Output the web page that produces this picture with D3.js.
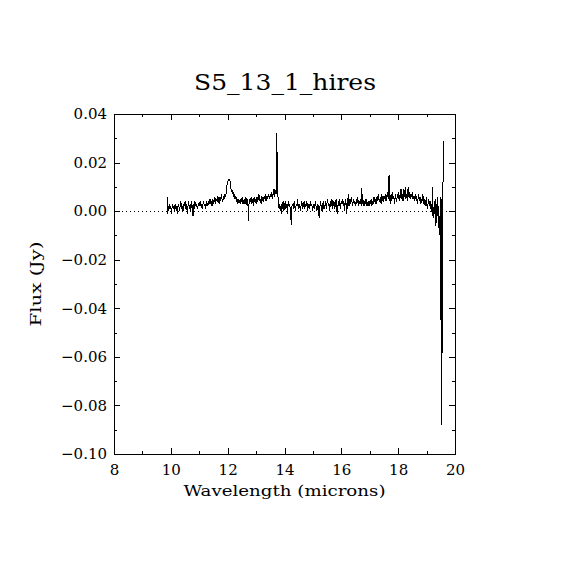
<!DOCTYPE html>
<html>
<head>
<meta charset="utf-8">
<script src="https://cdn.jsdelivr.net/npm/d3@7"></script>
<style>
  body { margin: 0; background: #fff; }
  svg { display: block; }
  .axis path.domain { display: none; }
  .axis line { stroke: #000; shape-rendering: crispEdges; }
  .axis text { font-family: "DejaVu Serif", serif; font-size: 15px; fill: #000; }
</style>
</head>
<body>
<div id="chart"></div>
<script>
// chart data
var chartTitle = "S5_13_1_hires";
var xLabel = "Wavelength (microns)";
var yLabel = "Flux (Jy)";

var xMajorTicks = [8, 10, 12, 14, 16, 18, 20];
var xMinorTicks = [9, 11, 13, 15, 17, 19];
var yMajorTicks = [-0.10, -0.08, -0.06, -0.04, -0.02, 0.00, 0.02, 0.04];
var yMinorTicks = [-0.09, -0.07, -0.05, -0.03, -0.01, 0.01, 0.03];

var wavelength = [
  9.87, 9.88, 9.90, 9.93, 9.95, 9.98, 10.00, 10.03, 10.05, 10.08,
  10.10, 10.13, 10.15, 10.18, 10.20, 10.23, 10.25, 10.28, 10.30, 10.33,
  10.35, 10.38, 10.40, 10.43, 10.45, 10.48, 10.50, 10.53, 10.55, 10.58,
  10.60, 10.63, 10.65, 10.68, 10.70, 10.73, 10.75, 10.78, 10.80, 10.83,
  10.85, 10.88, 10.90, 10.93, 10.95, 10.98, 11.00, 11.03, 11.05, 11.08,
  11.10, 11.13, 11.15, 11.18, 11.20, 11.23, 11.25, 11.28, 11.30, 11.33,
  11.35, 11.38, 11.40, 11.43, 11.45, 11.48, 11.50, 11.53, 11.55, 11.58,
  11.60, 11.63, 11.65, 11.68, 11.70, 11.73, 11.75, 11.78, 11.80, 11.83,
  11.85, 11.88, 11.90, 11.93, 11.96, 11.98, 12.00, 12.03, 12.06, 12.09,
  12.11, 12.13, 12.15, 12.17, 12.19, 12.21, 12.24, 12.26, 12.29, 12.31,
  12.34, 12.36, 12.39, 12.41, 12.44, 12.46, 12.49, 12.51, 12.54, 12.56,
  12.59, 12.61, 12.64, 12.66, 12.69, 12.71, 12.73, 12.75, 12.78, 12.80,
  12.83, 12.85, 12.88, 12.90, 12.93, 12.95, 12.98, 13.00, 13.03, 13.05,
  13.08, 13.10, 13.13, 13.15, 13.18, 13.20, 13.23, 13.25, 13.28, 13.30,
  13.33, 13.35, 13.38, 13.40, 13.43, 13.45, 13.48, 13.50, 13.53, 13.55,
  13.58, 13.60, 13.63, 13.65, 13.68, 13.71, 13.73, 13.75, 13.77, 13.79,
  13.81, 13.83, 13.85, 13.87, 13.89, 13.91, 13.93, 13.95, 13.98, 14.00,
  14.03, 14.05, 14.08, 14.10, 14.13, 14.15, 14.18, 14.21, 14.24, 14.26,
  14.29, 14.31, 14.34, 14.36, 14.39, 14.41, 14.44, 14.46, 14.49, 14.51,
  14.54, 14.56, 14.59, 14.61, 14.64, 14.66, 14.69, 14.71, 14.74, 14.76,
  14.79, 14.81, 14.84, 14.86, 14.89, 14.91, 14.94, 14.96, 14.99, 15.01,
  15.04, 15.06, 15.09, 15.11, 15.14, 15.16, 15.19, 15.22, 15.24, 15.27,
  15.29, 15.32, 15.34, 15.37, 15.39, 15.42, 15.44, 15.47, 15.49, 15.52,
  15.54, 15.57, 15.59, 15.62, 15.64, 15.67, 15.69, 15.72, 15.74, 15.77,
  15.79, 15.82, 15.84, 15.87, 15.89, 15.92, 15.94, 15.97, 15.99, 16.02,
  16.04, 16.07, 16.09, 16.12, 16.14, 16.17, 16.19, 16.22, 16.25, 16.27,
  16.30, 16.32, 16.35, 16.37, 16.40, 16.42, 16.45, 16.47, 16.50, 16.53,
  16.55, 16.58, 16.60, 16.63, 16.65, 16.68, 16.70, 16.72, 16.74, 16.77,
  16.80, 16.82, 16.85, 16.87, 16.90, 16.92, 16.95, 16.97, 17.00, 17.02,
  17.05, 17.07, 17.10, 17.12, 17.15, 17.17, 17.20, 17.22, 17.25, 17.27,
  17.30, 17.32, 17.35, 17.37, 17.40, 17.42, 17.45, 17.47, 17.50, 17.52,
  17.55, 17.57, 17.60, 17.62, 17.65, 17.68, 17.70, 17.72, 17.75, 17.77,
  17.80, 17.82, 17.85, 17.87, 17.90, 17.92, 17.95, 17.97, 18.00, 18.02,
  18.05, 18.07, 18.10, 18.12, 18.15, 18.17, 18.20, 18.22, 18.25, 18.27,
  18.30, 18.32, 18.35, 18.37, 18.40, 18.42, 18.45, 18.47, 18.50, 18.52,
  18.55, 18.57, 18.60, 18.62, 18.65, 18.67, 18.70, 18.72, 18.75, 18.77,
  18.80, 18.82, 18.85, 18.87, 18.90, 18.92, 18.95, 18.97, 19.00, 19.02,
  19.05, 19.07, 19.10, 19.12, 19.15, 19.17, 19.20, 19.21, 19.23, 19.25,
  19.27, 19.29, 19.31, 19.33, 19.35, 19.37, 19.39, 19.41, 19.43, 19.45,
  19.47, 19.49, 19.50, 19.51, 19.52, 19.53, 19.54, 19.55, 19.56, 19.57,
  19.58, 19.59, 19.60
];

var flux = [
  0.006, -0.001, 0.002, 0.000, 0.003, 0.001, 0.002, -0.001, 0.003, 0.001,
  0.002, 0.000, 0.003, 0.001, 0.002, -0.001, 0.002, 0.003, 0.000, 0.002,
  0.004, 0.001, 0.002, 0.000, 0.003, 0.002, 0.004, 0.001, 0.003, -0.001,
  0.002, 0.004, 0.001, 0.003, 0.000, 0.004, 0.002, -0.002, 0.003, 0.001,
  0.004, 0.002, 0.003, 0.001, 0.002, 0.003, 0.002, 0.004, 0.002, 0.003,
  0.001, 0.003, 0.004, 0.002, 0.003, 0.001, 0.004, 0.003, 0.002, 0.004,
  0.003, 0.005, 0.003, 0.004, 0.002, 0.005, 0.003, 0.004, 0.006, 0.003,
  0.005, 0.004, 0.006, 0.005, 0.003, 0.006, 0.004, 0.007, 0.005, 0.004,
  0.006, 0.005, 0.007, 0.006, 0.009, 0.011, 0.012, 0.013, 0.013, 0.012,
  0.010, 0.008, 0.009, 0.007, 0.008, 0.006, 0.007, 0.005, 0.006, 0.004,
  0.005, 0.003, 0.005, 0.004, 0.003, 0.005, 0.004, 0.006, 0.003, 0.004,
  0.005, 0.003, 0.006, 0.004, 0.002, 0.005, -0.004, 0.003, 0.005, 0.004,
  0.006, 0.003, 0.005, 0.002, 0.006, 0.004, 0.005, 0.003, 0.006, 0.004,
  0.005, 0.007, 0.004, 0.005, 0.003, 0.006, 0.005, 0.004, 0.006, 0.005,
  0.007, 0.004, 0.006, 0.005, 0.007, 0.006, 0.005, 0.007, 0.006, 0.008,
  0.005, 0.007, 0.009, 0.006, 0.008, 0.007, 0.032, 0.008, 0.006, 0.004,
  0.001, 0.003, 0.000, 0.002, -0.001, 0.003, 0.001, 0.004, 0.000, 0.002,
  0.004, 0.001, 0.003, -0.001, 0.004, 0.002, 0.003, 0.000, -0.0055, 0.002,
  0.003, 0.001, 0.004, 0.002, 0.000, 0.003, 0.002, 0.005, 0.001, 0.003,
  0.002, 0.000, 0.003, 0.004, 0.001, 0.002, 0.004, 0.001, 0.003, 0.002,
  0.004, 0.000, 0.002, 0.003, 0.001, 0.004, 0.002, 0.003, 0.000, 0.002,
  0.003, 0.001, 0.004, 0.002, 0.000, 0.003, 0.002, -0.003, 0.001, 0.004,
  0.002, 0.000, 0.003, 0.004, 0.001, 0.002, 0.004, 0.001, 0.003, 0.005,
  0.002, 0.003, 0.000, 0.004, 0.002, 0.005, 0.001, 0.003, 0.004, 0.001,
  0.003, 0.005, 0.000, -0.001, 0.004, 0.002, 0.005, 0.001, 0.003, 0.004,
  0.005, 0.002, 0.004, 0.000, 0.005, 0.003, -0.001, 0.004, 0.007, 0.002,
  0.005, 0.003, 0.006, 0.004, 0.002, 0.005, 0.003, 0.004, 0.002, 0.005,
  0.003, 0.006, 0.002, 0.004, 0.003, 0.005, 0.002, 0.0097, 0.003, 0.004,
  0.002, 0.004, 0.003, 0.005, 0.002, 0.003, 0.004, 0.002, 0.004, 0.003,
  0.005, 0.002, 0.004, 0.003, 0.006, 0.004, 0.005, 0.003, 0.006, 0.004,
  0.007, 0.005, 0.004, 0.006, 0.003, 0.007, 0.005, 0.004, 0.006, 0.005,
  0.007, 0.004, 0.006, 0.008, 0.005, 0.015, 0.006, 0.003, 0.007, 0.004,
  0.008, 0.005, 0.006, 0.003, 0.007, 0.005, 0.004, 0.007, 0.005, 0.008,
  0.004, 0.006, 0.009, 0.005, 0.007, 0.004, 0.009, 0.006, 0.010, 0.005,
  0.007, 0.004, 0.010, 0.006, 0.008, 0.005, 0.007, 0.006, 0.008, 0.005,
  0.006, 0.004, 0.007, 0.005, 0.006, 0.003, 0.005, 0.007, 0.004, 0.006,
  0.003, 0.005, 0.004, 0.007, 0.003, 0.005, 0.002, 0.004, 0.006, 0.001,
  0.003, 0.005, 0.002, 0.004, 0.001, 0.003, -0.002, 0.010, 0.000, -0.003,
  0.004, -0.001, 0.005, -0.006, 0.003, -0.002, 0.006, -0.007, 0.002, -0.010,
  -0.003, 0.006, -0.045, 0.005, -0.044, 0.004, -0.088, 0.000, 0.005, 0.003,
  0.014, 0.013, 0.029
];

document.addEventListener("DOMContentLoaded", function () {
    var svgWidth = 570,
        svgHeight = 570;

    // plot box in page pixels
    var left = 114, right = 455, top = 114, bottom = 454;

    var svg = d3.select("#chart")
        .append("svg")
        .attr("width", svgWidth)
        .attr("height", svgHeight);

    var x = d3.scaleLinear().domain([8, 20]).range([left, right]);
    var y = d3.scaleLinear().domain([-0.10, 0.04]).range([bottom, top]);

    var majorLen = 6, minorLen = 3;
    var yFmt = d3.format(".2f");

    // bottom axis with labels
    svg.append("g")
        .attr("class", "axis")
        .attr("transform", `translate(0,${bottom})`)
        .call(d3.axisBottom(x).tickValues(xMajorTicks).tickSize(-majorLen)
            .tickPadding(10).tickFormat(d3.format("d")));
    svg.append("g")
        .attr("class", "axis")
        .attr("transform", `translate(0,${bottom})`)
        .call(d3.axisBottom(x).tickValues(xMinorTicks).tickSize(-minorLen).tickFormat(""));

    // top axis, ticks only
    svg.append("g")
        .attr("class", "axis")
        .attr("transform", `translate(0,${top})`)
        .call(d3.axisTop(x).tickValues(xMajorTicks).tickSize(-majorLen).tickFormat(""));
    svg.append("g")
        .attr("class", "axis")
        .attr("transform", `translate(0,${top})`)
        .call(d3.axisTop(x).tickValues(xMinorTicks).tickSize(-minorLen).tickFormat(""));

    // left axis with labels
    svg.append("g")
        .attr("class", "axis")
        .attr("transform", `translate(${left},0)`)
        .call(d3.axisLeft(y).tickValues(yMajorTicks).tickSize(-majorLen)
            .tickPadding(7).tickFormat(yFmt));
    svg.append("g")
        .attr("class", "axis")
        .attr("transform", `translate(${left},0)`)
        .call(d3.axisLeft(y).tickValues(yMinorTicks).tickSize(-minorLen).tickFormat(""));

    // right axis, ticks only
    svg.append("g")
        .attr("class", "axis")
        .attr("transform", `translate(${right},0)`)
        .call(d3.axisRight(y).tickValues(yMajorTicks).tickSize(-majorLen).tickFormat(""));
    svg.append("g")
        .attr("class", "axis")
        .attr("transform", `translate(${right},0)`)
        .call(d3.axisRight(y).tickValues(yMinorTicks).tickSize(-minorLen).tickFormat(""));

    // frame
    svg.append("rect")
        .attr("x", x(8))
        .attr("y", y(0.04))
        .attr("width", x(20) - x(8))
        .attr("height", y(-0.10) - y(0.04))
        .attr("fill", "none")
        .attr("stroke", "#000")
        .attr("stroke-width", 1)
        .attr("shape-rendering", "crispEdges");

    // dotted zero line
    svg.append("line")
        .attr("x1", x(8)).attr("x2", x(20))
        .attr("y1", y(0)).attr("y2", y(0))
        .attr("stroke", "#000")
        .attr("stroke-width", 1)
        .attr("stroke-dasharray", "1,3")
        .attr("shape-rendering", "crispEdges");

    // spectrum
    var n = Math.min(wavelength.length, flux.length);
    var data = d3.range(n).map(i => ({ w: wavelength[i], f: flux[i] }));

    var valueline = d3.line()
        .x(d => x(d.w))
        .y(d => y(d.f));

    svg.append("path")
        .datum(data)
        .attr("d", valueline)
        .attr("fill", "none")
        .attr("stroke", "#000")
        .attr("stroke-width", 1)
        .attr("shape-rendering", "crispEdges");

    // title and axis labels
    svg.append("text")
        .attr("x", 285)
        .attr("y", 90)
        .attr("text-anchor", "middle")
        .attr("font-family", "DejaVu Serif, serif")
        .attr("font-size", 22)
        .attr("textLength", 182)
        .attr("lengthAdjust", "spacingAndGlyphs")
        .text(chartTitle);

    svg.append("text")
        .attr("x", (left + right) / 2)
        .attr("y", 496)
        .attr("text-anchor", "middle")
        .attr("font-family", "DejaVu Serif, serif")
        .attr("font-size", 15)
        .attr("textLength", 202)
        .attr("lengthAdjust", "spacingAndGlyphs")
        .text(xLabel);

    svg.append("text")
        .attr("transform", `translate(41,${(top + bottom) / 2}) rotate(-90)`)
        .attr("text-anchor", "middle")
        .attr("font-family", "DejaVu Serif, serif")
        .attr("font-size", 15)
        .attr("textLength", 85)
        .attr("lengthAdjust", "spacingAndGlyphs")
        .text(yLabel);
});
</script>
</body>
</html>
